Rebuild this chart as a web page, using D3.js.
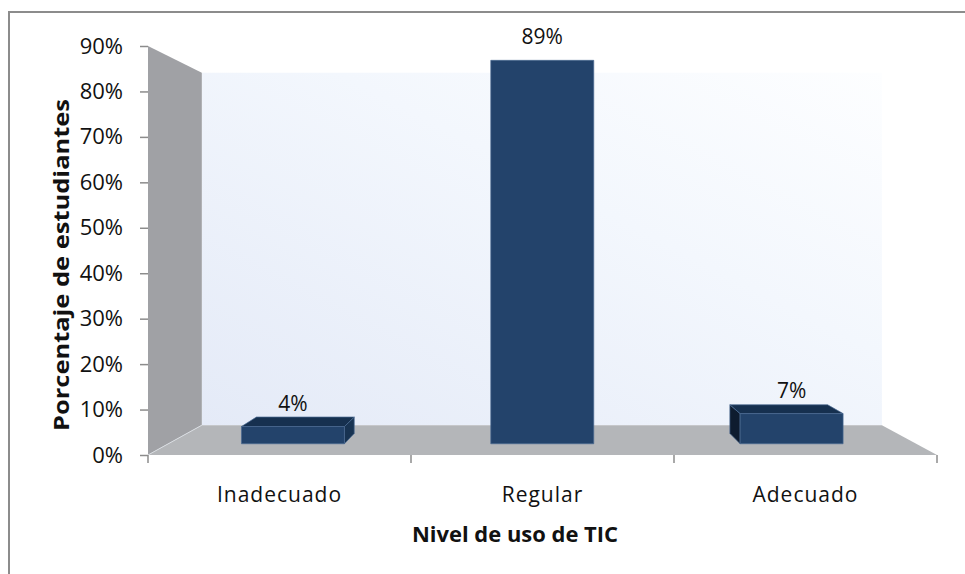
<!DOCTYPE html>
<html>
<head>
<meta charset="utf-8">
<script src="https://cdn.jsdelivr.net/npm/d3@7"></script>
<style>
  html, body { margin: 0; padding: 0; background: #fff; }
  svg { display: block; }
  text { font-family: 'Open Sans', Lato, sans-serif; fill: #111; }
</style>
</head>
<body>
<svg id="chart" width="965" height="574"></svg>
<script>
const categories = ['Inadecuado', 'Regular', 'Adecuado']
const values = [0.04, 0.89, 0.07]
const valueLabels = ['4%', '89%', '7%']
const yTicks = [0, 0.1, 0.2, 0.3, 0.4, 0.5, 0.6, 0.7, 0.8, 0.9]

const W = 965, H = 574
// front plane of the 3D box
const FRONT = { left: 148, right: 937, bottom: 455, top: 46 }
const VP = [538, 239]       // vanishing point
const S_BACK = 0.862        // scale of the back wall
const BAR_S = [0.948, 0.90] // bar front / back depth

const svg = d3.select('#chart')

const x = d3.scaleBand()
  .domain(categories)
  .range([FRONT.left, FRONT.right])
  .paddingInner(0.587)
  .paddingOuter(0.2935)

const y = d3.scaleLinear()
  .domain([0, 0.9])
  .range([FRONT.bottom, FRONT.top])

// perspective: pull a front-plane point towards the vanishing point
const P = (px, py, s) => [VP[0] + (px - VP[0]) * s, VP[1] + (py - VP[1]) * s]
const poly = pts => 'M' + pts.map(p => p.map(v => v.toFixed(2)).join(',')).join('L') + 'Z'

// outer frame
svg.append('rect')
  .attr('x', 9).attr('y', 12)
  .attr('width', W + 20).attr('height', H + 20)
  .attr('fill', '#fff')
  .attr('stroke', '#8c8c8c')
  .attr('stroke-width', 2)

const defs = svg.append('defs')
const wallGrad = defs.append('linearGradient')
  .attr('id', 'wallGrad')
  .attr('x1', '0').attr('y1', '1').attr('x2', '1').attr('y2', '0')
wallGrad.append('stop').attr('offset', '0%').attr('stop-color', '#e4eaf7')
wallGrad.append('stop').attr('offset', '60%').attr('stop-color', '#f3f7fd')
wallGrad.append('stop').attr('offset', '100%').attr('stop-color', '#fdfeff')

const box = svg.append('g').attr('class', 'box')

// back wall
box.append('path')
  .attr('d', poly([
    P(FRONT.left, y(0.9), S_BACK), P(FRONT.right, y(0.9), S_BACK),
    P(FRONT.right, y(0), S_BACK), P(FRONT.left, y(0), S_BACK)
  ]))
  .attr('fill', 'url(#wallGrad)')

// side wall
box.append('path')
  .attr('d', poly([
    P(FRONT.left, y(0.9), 1), P(FRONT.left, y(0.9), S_BACK),
    P(FRONT.left, y(0), S_BACK), P(FRONT.left, y(0), 1)
  ]))
  .attr('fill', '#a0a1a5')

// floor
box.append('path')
  .attr('d', poly([
    P(FRONT.left, y(0), 1), P(FRONT.left, y(0), S_BACK),
    P(FRONT.right, y(0), S_BACK), P(FRONT.right, y(0), 1)
  ]))
  .attr('fill', '#b4b6b9')

box.append('line')
  .attr('x1', P(FRONT.left, y(0), 1)[0]).attr('y1', P(FRONT.left, y(0), 1)[1])
  .attr('x2', P(FRONT.left, y(0), S_BACK)[0]).attr('y2', P(FRONT.left, y(0), S_BACK)[1])
  .attr('stroke', '#d9dde2')
  .attr('stroke-width', 1)

// y axis
const yAxis = svg.append('g')
  .attr('transform', `translate(${FRONT.left},0)`)
  .call(d3.axisLeft(y).tickValues(yTicks).tickFormat(d3.format('.0%')).tickSize(8).tickPadding(17))
yAxis.select('.domain').remove()
yAxis.selectAll('.tick line').attr('stroke', '#8c8c8c').attr('stroke-width', 1.5)
yAxis.selectAll('.tick text')
  .attr('font-family', "'Open Sans', sans-serif")
  .attr('font-size', 22)
  .attr('fill', '#111')

// x axis ticks at category boundaries
const bounds = d3.range(categories.length + 1).map(i => FRONT.left + i * x.step())
svg.append('g').selectAll('line')
  .data(bounds)
  .join('line')
  .attr('x1', d => d).attr('x2', d => d)
  .attr('y1', y(0)).attr('y2', y(0) + 8)
  .attr('stroke', '#8c8c8c')
  .attr('stroke-width', 1.5)

svg.append('g').selectAll('text')
  .data(categories)
  .join('text')
  .attr('x', d => x(d) + x.bandwidth() / 2)
  .attr('y', 502)
  .attr('text-anchor', 'middle')
  .attr('font-size', 21)
  .attr('letter-spacing', 1)
  .text(d => d)

// bars
const FRONT_COL = '#23436b'
const TOP_COL = '#16304f'
const RIGHT_COL = '#183352'
const LEFT_COL = '#0e1c2f'
const EDGE = '#4a6a92'

const bars = svg.append('g').attr('class', 'bars')
categories.forEach((c, i) => {
  const x0 = x(c), x1 = x0 + x.bandwidth()
  const y0 = y(0), y1 = y(values[i])
  const [sf, sb] = BAR_S
  const g = bars.append('g')
  const face = (pts, fill) => g.append('path')
    .attr('d', poly(pts))
    .attr('fill', fill)
    .attr('stroke', EDGE)
    .attr('stroke-width', 0.7)
    .attr('stroke-linejoin', 'round')

  if (x0 > VP[0]) face([P(x0, y1, sf), P(x0, y1, sb), P(x0, y0, sb), P(x0, y0, sf)], LEFT_COL)
  if (x1 < VP[0]) face([P(x1, y1, sf), P(x1, y1, sb), P(x1, y0, sb), P(x1, y0, sf)], RIGHT_COL)
  if (y1 > VP[1]) face([P(x0, y1, sf), P(x1, y1, sf), P(x1, y1, sb), P(x0, y1, sb)], TOP_COL)
  face([P(x0, y1, sf), P(x1, y1, sf), P(x1, y0, sf), P(x0, y0, sf)], FRONT_COL)

  const top = P((x0 + x1) / 2, y1, sf)
  svg.append('text')
    .attr('x', top[0])
    .attr('y', top[1] - 16)
    .attr('text-anchor', 'middle')
    .attr('font-size', 21)
    .text(valueLabels[i])
})

// axis titles
svg.append('text')
  .attr('transform', 'translate(69,265) rotate(-90)')
  .attr('text-anchor', 'middle')
  .attr('font-size', 21)
  .attr('font-weight', 'bold')
  .attr('textLength', 332)
  .attr('lengthAdjust', 'spacingAndGlyphs')
  .text('Porcentaje de estudiantes')

svg.append('text')
  .attr('x', 515)
  .attr('y', 542)
  .attr('text-anchor', 'middle')
  .attr('font-size', 21)
  .attr('font-weight', 'bold')
  .attr('textLength', 206)
  .attr('lengthAdjust', 'spacingAndGlyphs')
  .text('Nivel de uso de TIC')
</script>
</body>
</html>
